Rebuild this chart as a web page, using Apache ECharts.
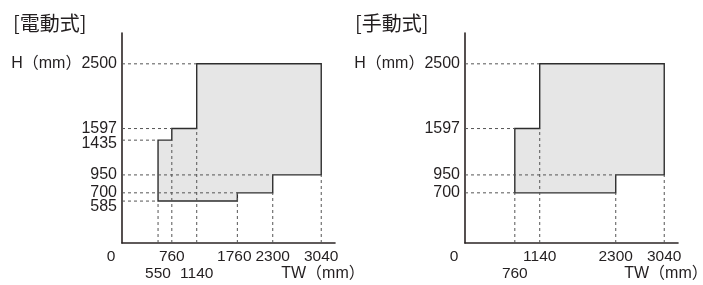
<!DOCTYPE html>
<html>
<head>
<meta charset="utf-8">
<script src="https://cdn.jsdelivr.net/npm/echarts@6/dist/echarts.min.js"></script>
<style>
html,body{margin:0;padding:0;background:#fff;}
#c{width:703px;height:285px;}
</style>
</head>
<body>
<div id="c"></div>
<script>
// ---- data ----
const titleElectric = '[電動式]';
const titleManual = '[手動式]';
const xTicksElectric = [0, 550, 760, 1140, 1760, 2300, 3040];
const xLowerElectric = [550, 1140];
const yTicksElectric = [585, 700, 950, 1435, 1597, 2500];
const outlineElectric = [[550,585],[550,1435],[760,1435],[760,1597],[1140,1597],[1140,2500],[3040,2500],[3040,950],[2300,950],[2300,700],[1760,700],[1760,585]];
const hGuidesElectric = [[2500,1140],[1597,760],[1435,550],[950,2300],[700,1760],[585,550]]; // [y, xEnd]
const vGuidesElectric = [[550,585],[760,1435],[1140,1597],[1760,700],[2300,700],[3040,950]]; // [x, yEnd]

const xTicksManual = [0, 760, 1140, 2300, 3040];
const xLowerManual = [760];
const yTicksManual = [700, 950, 1597, 2500];
const outlineManual = [[760,700],[760,1597],[1140,1597],[1140,2500],[3040,2500],[3040,950],[2300,950],[2300,700]];
const hGuidesManual = [[2500,1140],[1597,760],[950,2300],[700,760]];
const vGuidesManual = [[760,700],[1140,1597],[2300,700],[3040,950]];

const yUnitLabel = 'H（mm）';
const xUnitLabel = 'TW（mm）';

// ---- styles ----
const TXT = '#231f20';
const FONT = "'Liberation Sans', 'Noto Sans CJK JP', sans-serif";
const FS = 16;
const XFS = 15.5;

const chart = echarts.init(document.getElementById('c'), null, {renderer:'canvas'});

function rich(fs) {
  return {
    n: {fontSize: fs, fontFamily: FONT, color: TXT, lineHeight: 17},
    e: {fontSize: fs, fontFamily: FONT, color: TXT, lineHeight: 17},
    z: {fontSize: fs, fontFamily: FONT, color: TXT, lineHeight: 17, padding: [0,22,0,0]},
    l: {fontSize: fs, fontFamily: FONT, color: TXT, lineHeight: 17, padding: [0,6,0,0]},
    d: {fontSize: fs, fontFamily: FONT, color: TXT, lineHeight: 17, padding: [12,0,0,0]},
    s: {fontSize: fs, fontFamily: FONT, color: TXT, lineHeight: 17, padding: [6,0,0,0]}
  };
}

function xAxisFor(idx, ticks, lower) {
  return {
    type: 'value', gridIndex: idx, min: 0, max: 3250,
    name: xUnitLabel, nameLocation: 'end', nameGap: -12, nameMoveOverlap: false,
    nameTextStyle: {fontSize: FS, fontFamily: FONT, color: TXT, align: 'center', verticalAlign: 'top', lineHeight: 17, padding: [22,0,0,0]},
    splitLine: {show: false},
    axisLine: {show: true, lineStyle: {color: '#2b2424', width: 1.6}},
    axisTick: {show: false},
    axisLabel: {
      customValues: ticks, margin: 5.5, showMinLabel: true, showMaxLabel: true,
      fontSize: XFS, fontFamily: FONT, color: TXT, lineHeight: 17,
      formatter: function (v) {
        if (v === 0) return '{z|0}';
        if (v === 1760) return '{l|' + v + '}';
        if (lower.indexOf(v) >= 0) return '{e| }\n{n|' + v + '}';
        return '{n|' + v + '}';
      },
      rich: rich(XFS)
    }
  };
}

function yAxisFor(idx, ticks) {
  return {
    type: 'value', gridIndex: idx, min: 0, max: 2930,
    splitLine: {show: false},
    axisLine: {show: true, lineStyle: {color: '#2b2424', width: 1.6}},
    axisTick: {show: false},
    axisLabel: {
      customValues: [0].concat(ticks), margin: 5, showMinLabel: true, showMaxLabel: true,
      fontSize: FS, fontFamily: FONT, color: TXT,
      formatter: function (v) {
        if (v === 0) return '';
        if (v === 2500) return '{n|' + yUnitLabel + v + '}';
        if (v === 585) return '{d|' + v + '}';
        if (v === 1435) return '{s|' + v + '}';
        return '{n|' + v + '}';
      },
      rich: rich(FS)
    }
  };
}

function polygonSeries(idx, outline) {
  return {
    type: 'custom', xAxisIndex: idx, yAxisIndex: idx, clip: false, z: 2,
    data: [[0, 0]], silent: true,
    renderItem: function (params, api) {
      const pts = outline.map(p => api.coord(p));
      return {type: 'polygon', shape: {points: pts},
        style: {fill: '#e6e6e6', stroke: '#2e2e2e', lineWidth: 1.4}};
    }
  };
}

function guideSeries(idx, hGuides, vGuides) {
  const segs = hGuides.map(g => [0, g[0], g[1], g[0]]).concat(vGuides.map(g => [g[0], 0, g[0], g[1]]));
  return {
    type: 'custom', xAxisIndex: idx, yAxisIndex: idx, clip: false, z: 3,
    encode: {x: [0, 2], y: [1, 3]}, silent: true,
    data: segs,
    renderItem: function (params, api) {
      const a = api.coord([api.value(0), api.value(1)]);
      const b = api.coord([api.value(2), api.value(3)]);
      return {type: 'line', shape: {x1: a[0], y1: a[1], x2: b[0], y2: b[1]},
        style: {stroke: '#555', lineWidth: 1, lineDash: [3, 3]}};
    }
  };
}

chart.setOption({
  animation: false,
  backgroundColor: '#fff',
  grid: [
    {left: 122, top: 33, width: 213, height: 210, outerBoundsMode: 'none', containLabel: false},
    {left: 465, top: 33, width: 213, height: 210, outerBoundsMode: 'none', containLabel: false}
  ],
  xAxis: [xAxisFor(0, xTicksElectric, xLowerElectric), xAxisFor(1, xTicksManual, xLowerManual)],
  yAxis: [yAxisFor(0, yTicksElectric), yAxisFor(1, yTicksManual)],
  graphic: [
    {type: 'text', left: 13, top: 13, style: {text: titleElectric, fontSize: 20, fontFamily: "'Noto Sans CJK JP', sans-serif", fill: TXT}},
    {type: 'text', left: 355, top: 13, style: {text: titleManual, fontSize: 20, fontFamily: "'Noto Sans CJK JP', sans-serif", fill: TXT}}
  ],
  series: [
    polygonSeries(0, outlineElectric), guideSeries(0, hGuidesElectric, vGuidesElectric),
    polygonSeries(1, outlineManual), guideSeries(1, hGuidesManual, vGuidesManual)
  ]
});
</script>
</body>
</html>
